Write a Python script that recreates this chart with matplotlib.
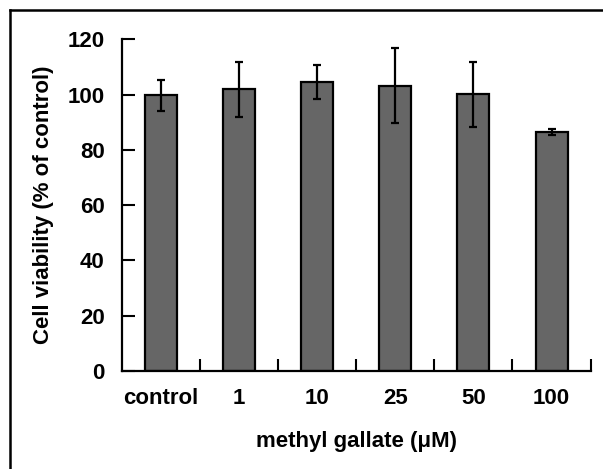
import numpy as np
import matplotlib.pyplot as plt
from matplotlib.lines import Line2D

plt.rcParams['font.family'] = ['Liberation Sans', 'DejaVu Sans']
plt.rcParams['font.weight'] = 'bold'

categories = ['control', '1', '10', '25', '50', '100']
viability = [99.8, 101.9, 104.6, 103.3, 100.2, 86.5]
errors = [5.6, 9.9, 6.3, 13.5, 11.8, 1.0]


def main():
    fig = plt.figure(figsize=(6.03, 4.69), dpi=100)
    ax = fig.add_axes([0.2015, 0.209, 0.778, 0.707])

    x = np.arange(len(categories))
    ax.bar(x, viability, width=0.41, color='#666666', edgecolor='black',
           linewidth=1.6, zorder=2)
    ax.errorbar(x, viability, yerr=errors, fmt='none', ecolor='black',
                elinewidth=1.6, capsize=3, capthick=1.6, zorder=3)

    ax.set_xlim(-0.5, len(categories) - 0.5)
    ax.set_ylim(0, 120)
    ax.set_yticks(np.arange(0, 121, 20))

    # category labels without ticks, boundary ticks pointing inside
    ax.set_xticks(x)
    ax.set_xticklabels(categories)
    ax.set_xticks(np.arange(0.5, len(categories), 1.0), minor=True)
    ax.tick_params(axis='x', which='major', length=0, pad=12, labelsize=16)
    ax.tick_params(axis='x', which='minor', direction='in', length=9, width=1.5)
    ax.tick_params(axis='y', direction='in', length=9, width=1.5, pad=12,
                   labelsize=16)

    for side in ['top', 'right']:
        ax.spines[side].set_visible(False)
    for side in ['left', 'bottom']:
        ax.spines[side].set_linewidth(1.6)

    ax.set_xlabel('methyl gallate (μM)', fontsize=16, fontweight='bold',
                  labelpad=16)
    ax.set_ylabel('Cell viability (% of control)', fontsize=16,
                  fontweight='bold', labelpad=10)

    # cropped frame: top and left edges only
    fig.add_artist(Line2D([10 / 603, 1.0], [1 - 10 / 469, 1 - 10 / 469],
                          transform=fig.transFigure, color='black', lw=1.8))
    fig.add_artist(Line2D([10 / 603, 10 / 603], [0.0, 1 - 10 / 469],
                          transform=fig.transFigure, color='black', lw=1.8))

    fig.savefig('out.png', dpi=100)


if __name__ == '__main__':
    main()
